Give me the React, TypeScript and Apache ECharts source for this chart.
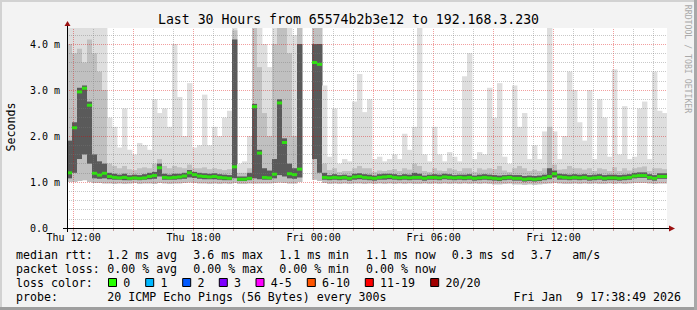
import React, { useEffect, useRef } from 'react';
import * as echarts from 'echarts';

// Time axis: hours since Thu 00:00 (Jan 8 2026); window Thu 11:40 -> Fri 17:40
const START_HOUR = 11 + 40 / 60;
const STEP_HOURS = 0.25; // one smoke column per 15 minutes
const END_HOUR = START_HOUR + 30;

const xTickHours = [12, 18, 24, 30, 36];
const xTickLabels = ['Thu 12:00', 'Thu 18:00', 'Fri 00:00', 'Fri 06:00', 'Fri 12:00'];
const yTickValues = [0, 1, 2, 3, 4];
const yTickLabels = ['0.0', '1.0 m', '2.0 m', '3.0 m', '4.0 m'];

// ping round trip times in ms (per 15-minute column)
const pingMin = [
  1.00, 1.00, 1.02, 1.04, 1.00, 0.98, 0.98, 0.97, 0.97, 0.96,
  0.97, 0.96, 0.97, 0.98, 0.96, 0.97, 0.97, 0.96, 0.98, 0.97,
  0.96, 0.97, 0.97, 0.98, 0.99, 0.98, 0.97, 0.97, 0.96, 0.97,
  0.96, 0.97, 0.96, 0.98, 0.96, 0.96, 0.97, 0.97, 0.97, 0.97,
  0.97, 0.98, 0.99, 0.98, 0.97, 0.97, 1.00, null, null, 1.05,
  1.02, 0.98, 0.96, 0.97, 0.96, 0.97, 0.96, 0.97, 0.97, 0.96,
  0.97, 0.96, 0.97, 0.96, 0.97, 0.96, 0.97, 0.96, 0.97, 0.96,
  0.96, 0.97, 0.96, 0.97, 0.96, 0.97, 0.96, 0.97, 0.96, 0.97,
  0.96, 0.97, 0.96, 0.97, 0.96, 0.95, 0.95, 0.96, 0.97, 0.95,
  0.95, 0.94, 0.95, 0.94, 0.95, 0.96, 0.97, 0.98, 0.97, 0.96,
  0.96, 0.97, 0.96, 0.97, 0.96, 0.97, 0.96, 0.96, 0.97, 0.96,
  0.97, 0.96, 0.97, 0.98, 0.98, 0.98, 0.97, 0.96, 0.97, 0.97,
];
const pingQ1 = [
  1.08, 1.20, 1.50, 1.60, 1.40, 1.08, 1.07, 1.08, 1.06, 1.05,
  1.05, 1.04, 1.04, 1.05, 1.04, 1.05, 1.06, 1.07, 1.12, 1.05,
  1.05, 1.05, 1.06, 1.07, 1.10, 1.09, 1.07, 1.06, 1.06, 1.06,
  1.05, 1.04, 1.04, 1.08, 1.02, 1.02, 1.04, 1.08, 1.06, 1.05,
  1.05, 1.08, 1.15, 1.12, 1.08, 1.07, 1.10, null, null, 1.50,
  1.20, 1.05, 1.04, 1.05, 1.04, 1.05, 1.03, 1.05, 1.06, 1.05,
  1.04, 1.03, 1.05, 1.05, 1.06, 1.05, 1.04, 1.05, 1.04, 1.05,
  1.05, 1.03, 1.05, 1.05, 1.04, 1.06, 1.05, 1.04, 1.05, 1.04,
  1.05, 1.03, 1.04, 1.05, 1.04, 1.03, 1.02, 1.04, 1.05, 1.03,
  1.03, 1.01, 1.02, 1.01, 1.02, 1.04, 1.06, 1.10, 1.05, 1.05,
  1.04, 1.05, 1.04, 1.05, 1.03, 1.04, 1.05, 1.03, 1.04, 1.04,
  1.03, 1.04, 1.05, 1.08, 1.09, 1.09, 1.05, 1.03, 1.07, 1.07,
];
const pingMedian = [
  1.20, 2.18, 2.96, 3.04, 2.67, 1.19, 1.15, 1.19, 1.12, 1.10,
  1.09, 1.10, 1.08, 1.09, 1.08, 1.09, 1.12, 1.14, 1.31, 1.10,
  1.09, 1.10, 1.11, 1.13, 1.20, 1.16, 1.13, 1.12, 1.11, 1.12,
  1.10, 1.09, 1.08, 1.33, 1.06, 1.06, 1.08, 2.64, 1.63, 1.10,
  1.09, 1.17, 2.72, 1.86, 1.18, 1.16, 1.28, null, null, 3.60,
  3.56, 1.10, 1.09, 1.10, 1.09, 1.10, 1.08, 1.11, 1.12, 1.10,
  1.09, 1.08, 1.10, 1.11, 1.12, 1.10, 1.09, 1.10, 1.09, 1.10,
  1.10, 1.08, 1.10, 1.10, 1.09, 1.11, 1.10, 1.09, 1.10, 1.09,
  1.10, 1.08, 1.09, 1.10, 1.09, 1.08, 1.07, 1.09, 1.10, 1.08,
  1.08, 1.06, 1.07, 1.06, 1.07, 1.09, 1.12, 1.18, 1.11, 1.10,
  1.09, 1.10, 1.09, 1.10, 1.08, 1.09, 1.10, 1.08, 1.09, 1.09,
  1.08, 1.09, 1.10, 1.13, 1.14, 1.14, 1.10, 1.08, 1.12, 1.12,
];
const pingQ3 = [
  1.90, 2.30, 3.05, 3.10, 2.75, 1.60, 1.45, 1.40, 1.20, 1.18,
  1.16, 1.18, 1.15, 1.16, 1.15, 1.17, 1.20, 1.22, 1.40, 1.18,
  1.16, 1.18, 1.18, 1.20, 1.26, 1.22, 1.20, 1.19, 1.18, 1.19,
  1.17, 1.16, 1.15, 4.10, 1.12, 1.12, 1.20, 2.70, 1.70, 1.30,
  1.25, 1.50, 2.80, 1.95, 1.40, 1.30, 4.00, null, null, 4.00,
  4.00, 1.20, 1.15, 1.17, 1.15, 1.16, 1.14, 1.18, 1.19, 1.17,
  1.16, 1.14, 1.17, 1.18, 1.18, 1.17, 1.15, 1.17, 1.16, 1.20,
  1.18, 1.14, 1.16, 1.17, 1.16, 1.18, 1.17, 1.15, 1.16, 1.16,
  1.17, 1.14, 1.16, 1.17, 1.16, 1.15, 1.14, 1.15, 1.16, 1.15,
  1.15, 1.13, 1.14, 1.13, 1.14, 1.16, 1.30, 1.25, 1.18, 1.17,
  1.16, 1.17, 1.16, 1.17, 1.15, 1.16, 1.17, 1.15, 1.16, 1.16,
  1.15, 1.16, 1.17, 1.20, 1.21, 1.21, 1.17, 1.15, 1.19, 1.19,
];
const pingP90 = [
  4.00, 3.80, 3.90, 3.60, 4.10, 3.80, 3.40, 3.00, 1.40, 1.35,
  1.30, 1.35, 1.28, 1.26, 1.30, 1.32, 1.30, 1.40, 1.50, 1.35,
  1.30, 1.35, 1.32, 1.30, 1.38, 1.30, 1.30, 1.32, 1.28, 1.30,
  1.28, 1.26, 1.28, 4.30, 1.20, 1.20, 1.30, 4.35, 3.50, 2.50,
  2.00, 4.00, 4.35, 4.35, 3.80, 2.00, 4.35, null, null, 4.35,
  4.35, 1.40, 1.26, 1.30, 1.22, 1.24, 1.24, 1.30, 1.35, 1.30,
  1.30, 1.22, 1.25, 1.24, 1.26, 1.28, 1.24, 1.30, 1.27, 1.40,
  1.35, 1.24, 1.22, 1.30, 1.25, 1.24, 1.30, 1.27, 1.24, 1.30,
  1.30, 1.22, 1.30, 1.27, 1.30, 1.28, 1.35, 1.25, 1.22, 1.30,
  1.35, 1.30, 1.24, 1.27, 1.24, 1.30, 2.20, 1.38, 1.27, 1.28,
  1.35, 1.30, 1.30, 1.27, 1.30, 1.24, 1.30, 1.28, 1.24, 1.32,
  1.24, 1.30, 1.25, 1.30, 1.32, 1.34, 1.24, 1.30, 1.30, 1.28,
];
const pingMax = [
  4.35, 4.35, 4.35, 4.35, 4.35, 4.35, 4.35, 4.35, 2.40, 2.20,
  1.75, 2.60, 1.70, 1.60, 1.85, 1.80, 1.70, 2.80, 2.50, 2.60,
  2.20, 4.00, 2.85, 2.00, 3.15, 1.75, 1.80, 2.90, 1.80, 2.20,
  2.00, 2.40, 2.55, 4.35, 1.40, 1.45, 2.00, 4.35, 4.35, 4.00,
  3.50, 4.35, 4.35, 4.35, 4.35, 4.20, 4.35, null, null, 4.35,
  4.35, 3.10, 1.55, 2.60, 1.40, 1.50, 1.45, 2.75, 3.35, 2.52,
  2.80, 1.50, 1.55, 1.45, 1.50, 1.60, 1.50, 2.05, 1.70, 2.20,
  4.35, 1.60, 1.45, 2.20, 1.60, 1.45, 1.65, 1.55, 1.45, 3.30,
  3.80, 1.50, 1.65, 1.60, 3.05, 2.40, 3.15, 1.55, 1.40, 3.10,
  2.20, 2.50, 1.50, 1.80, 1.50, 2.10, 4.35, 2.10, 1.50, 2.00,
  3.40, 3.00, 2.30, 1.90, 3.00, 1.50, 2.80, 2.40, 1.55, 3.45,
  1.60, 2.65, 1.50, 1.55, 2.60, 2.75, 1.50, 3.40, 2.55, 2.50,
];

const rttStats = ['1.2 ms avg', '3.6 ms max', '1.1 ms min', '1.1 ms now', '0.3 ms sd'];
const lossStats = ['0.00 % avg', '0.00 % max', '0.00 % min', '0.00 % now'];
const lossLabels = ['0', '1', '2', '3', '4-5', '6-10', '11-19', '20/20'];
const lossColors = ['#26ff00', '#00b8ff', '#0059ff', '#7e00ff', '#ff00ff', '#ff5500', '#ff0000', '#a10000'];

const MONO = '"DejaVu Sans Mono", "Liberation Mono", monospace';
const LIGHT = '#dedede';
const MID = '#c0c0c0';
const DARK = '#5a5a5a';

function buildOption() {
  const smoke: number[][] = [];
  const median: number[][] = [];
  for (let i = 0; i < pingMedian.length; i++) {
    const t = START_HOUR + i * STEP_HOURS;
    if (pingMin[i] == null) continue;
    smoke.push([t, pingMin[i] as number, pingQ1[i] as number, pingQ3[i] as number, pingP90[i] as number, pingMax[i] as number]);
    median.push([t + STEP_HOURS / 2, pingMedian[i] as number]);
  }

  const minorV = { color: 'rgba(120,120,120,0.4)', type: [1, 1], width: 1 };
  const majorV = { color: 'rgba(220,0,0,0.38)', type: [1, 1], width: 1 };
  const gridLines: any[] = [];
  for (let h = Math.ceil(START_HOUR); h <= END_HOUR; h++) {
    gridLines.push({ xAxis: h, lineStyle: h % 3 === 0 ? majorV : minorV });
  }
  for (let k = 1; k <= 21; k++) {
    gridLines.push({ yAxis: Math.round(k * 2) / 10, lineStyle: k % 5 === 0 ? majorV : minorV });
  }
  const hourTicks: number[] = [];
  for (let h = Math.ceil(START_HOUR); h <= END_HOUR; h++) hourTicks.push(h);

  const statX = [107.3, 193.3, 279.3, 366, 451.7];
  const boxX = [108.5, 145.7, 182.7, 219.3, 256, 307.3, 365.3, 430.7];
  const lineY = [254.5, 268.5, 282.5, 296.5];
  const font = '11.6px ' + MONO;

  const txt = (text: string, x: number, y: number, extra: any = {}) => ({
    type: 'text',
    x,
    y,
    z: 100,
    style: {
      text,
      font,
      fill: '#000',
      textAlign: 'left',
      align: 'left',
      textVerticalAlign: 'middle',
      verticalAlign: 'middle',
      ...extra,
    },
  });

  const graphic: any[] = [
    // outer 3D border
    { type: 'rect', shape: { x: 0, y: 0, width: 697, height: 2 }, style: { fill: '#d2d2d2' }, z: 100 },
    { type: 'rect', shape: { x: 0, y: 0, width: 2, height: 310 }, style: { fill: '#d2d2d2' }, z: 100 },
    { type: 'rect', shape: { x: 0, y: 307, width: 697, height: 3 }, style: { fill: '#9e9e9e' }, z: 100 },
    { type: 'rect', shape: { x: 694, y: 0, width: 3, height: 310 }, style: { fill: '#a8a8a8' }, z: 100 },
    txt('Last 30 Hours from 65574b2b3e12 to 192.168.3.230', 348.5, 19.5, {
      font: '13.2px ' + MONO,
      textAlign: 'center',
      align: 'center',
    }),
    {
      type: 'text',
      x: 11,
      y: 127,
      rotation: Math.PI / 2,
      z: 100,
      style: { text: 'Seconds', font, fill: '#000', textAlign: 'center', align: 'center', textVerticalAlign: 'middle', verticalAlign: 'middle' },
    },
    {
      type: 'text',
      x: 688,
      y: 59,
      rotation: -Math.PI / 2,
      z: 100,
      style: { text: 'RRDTOOL / TOBI OETIKER', font: '8.2px ' + MONO, fill: '#a9a9a9', textAlign: 'center', align: 'center', textVerticalAlign: 'middle', verticalAlign: 'middle' },
    },
    // axis lines, extensions and arrows
    { type: 'line', shape: { x1: 63, y1: 228.5, x2: 670, y2: 228.5 }, style: { stroke: '#000', lineWidth: 1 }, z: 50 },
    { type: 'line', shape: { x1: 67.5, y1: 26, x2: 67.5, y2: 232 }, style: { stroke: '#000', lineWidth: 1 }, z: 50 },
    { type: 'polygon', shape: { points: [[64.5, 26], [70.5, 26], [67.5, 21]] }, style: { fill: '#9b1010' }, z: 50 },
    { type: 'polygon', shape: { points: [[669, 225.5], [669, 231.5], [675, 228.5]] }, style: { fill: '#9b1010' }, z: 50 },
    // legend
    txt('median rtt:', 16, lineY[0]),
    txt('packet loss:', 16, lineY[1]),
    txt('loss color:', 16, lineY[2]),
    txt('probe:', 16, lineY[3]),
    txt('3.7', 530.7, lineY[0]),
    txt('am/s', 572.3, lineY[0]),
    txt('20 ICMP Echo Pings (56 Bytes) every 300s', 107.3, lineY[3]),
    txt('Fri Jan  9 17:38:49 2026', 681, lineY[3], { textAlign: 'right', align: 'right' }),
  ];
  rttStats.forEach((s, i) => graphic.push(txt(s, statX[i], lineY[0])));
  lossStats.forEach((s, i) => graphic.push(txt(s, statX[i], lineY[1])));
  lossLabels.forEach((s, i) => {
    graphic.push({
      type: 'rect',
      z: 100,
      shape: { x: boxX[i], y: lineY[2] - 4, width: 8, height: 8 },
      style: { fill: lossColors[i], stroke: '#000', lineWidth: 1 },
    });
    graphic.push(txt(s, boxX[i] + 14.8, lineY[2]));
  });

  return {
    animation: false,
    backgroundColor: '#f3f3f3',
    grid: { left: 67, top: 28, width: 600, height: 200, show: true, backgroundColor: '#ffffff', borderWidth: 0 },
    xAxis: {
      type: 'value',
      min: START_HOUR,
      max: END_HOUR,
      axisLine: { show: false },
      axisTick: { show: true, length: 3, customValues: hourTicks, lineStyle: { color: '#c8a0a0' } },
      axisLabel: {
        customValues: xTickHours,
        margin: 4,
        color: '#000',
        fontFamily: MONO,
        fontSize: 10,
        formatter: (v: number) => {
          const i = xTickHours.indexOf(Math.round(v));
          return i >= 0 ? xTickLabels[i] : '';
        },
      },
      splitLine: { show: false },
    },
    yAxis: {
      type: 'value',
      min: 0,
      max: 4.35,
      interval: 1,
      axisLine: { show: false },
      axisTick: { show: false },
      axisLabel: {
        align: 'left',
        margin: 37,
        color: '#000',
        fontFamily: MONO,
        fontSize: 10,
        showMaxLabel: false,
        formatter: (v: number) => {
          const i = yTickValues.indexOf(Math.round(v * 100) / 100);
          return i >= 0 ? yTickLabels[i] : '';
        },
      },
      splitLine: { show: false },
    },
    series: [
      {
        type: 'custom',
        z: 2,
        clip: true,
        silent: true,
        data: smoke,
        encode: { x: 0, y: [1, 5] },
        renderItem: (params: any, api: any) => {
          const t = api.value(0);
          const w = api.size([STEP_HOURS, 0])[0] + 0.4;
          const band = (a: number, b: number, color: string) => {
            const top = api.coord([t, b]);
            const bot = api.coord([t, a]);
            return {
              type: 'rect',
              shape: { x: top[0], y: top[1], width: w, height: Math.max(bot[1] - top[1], 1) },
              style: { fill: color },
            };
          };
          return {
            type: 'group',
            children: [
              band(api.value(1), api.value(5), LIGHT),
              band(api.value(1), api.value(4), MID),
              band(api.value(2), api.value(3), DARK),
            ],
          };
        },
      },
      {
        type: 'line',
        z: 3,
        silent: true,
        data: [],
        markLine: {
          silent: true,
          symbol: ['none', 'none'],
          label: { show: false },
          animation: false,
          data: gridLines,
        },
      },
      {
        type: 'scatter',
        z: 5,
        silent: true,
        symbol: 'rect',
        symbolSize: [5.2, 3],
        itemStyle: { color: '#26ff00' },
        data: median,
      },
    ],
    graphic,
  };
}

export default function App() {
  const ref = useRef<HTMLDivElement>(null);
  useEffect(() => {
    document.body.style.margin = '0';
    const chart = echarts.init(ref.current as HTMLDivElement, null, { renderer: 'svg' });
    chart.setOption(buildOption() as any);
    return () => chart.dispose();
  }, []);
  return <div ref={ref} style={{ width: 697, height: 310 }} />;
}
